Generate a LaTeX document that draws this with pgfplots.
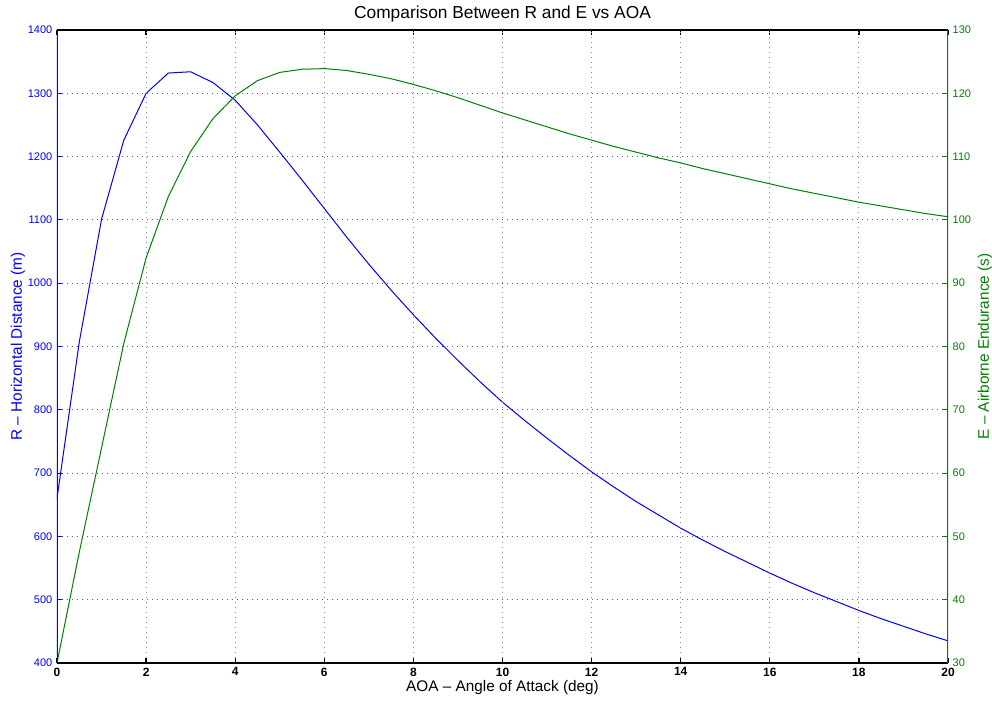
\documentclass[border=0pt]{standalone}
\usepackage{pgfplots}
\pgfplotsset{compat=1.18}
\usepackage{pgfplotstable}
\usepackage{fontspec}
\setmainfont{Liberation Sans}
\definecolor{mgreen}{rgb}{0,0.5,0}
\definecolor{gridblue}{rgb}{0.3,0.3,1}
\definecolor{gridgray}{rgb}{0.55,0.55,0.55}
\pgfplotstableread{
x R
0 660
0.5 907
1 1101
1.5 1226
2 1300
2.5 1332
3 1334
3.5 1317
4 1289
4.5 1250
5 1207
5.5 1163
6 1118
6.5 1073
7 1030
7.5 989
8 950
8.5 913
9 878
9.5 844
10 812
10.5 783
11 755
11.5 728
12 702
12.5 678
13 655
13.5 634
14 613
14.5 594
15 576
15.5 559
16 542
16.5 526
17 511
17.5 497
18 483
18.5 470
19 458
19.5 446
20 435
}\Rtable
\pgfplotstableread{
x E
0 30
0.5 47.5
1 64
1.5 80.5
2 94
2.5 103.7
3 110.8
3.5 116
4 119.6
4.5 122
5 123.3
5.5 123.8
6 123.9
6.5 123.6
7 123.0
7.5 122.3
8 121.4
8.5 120.4
9 119.3
9.5 118.1
10 116.9
10.5 115.8
11 114.7
11.5 113.6
12 112.6
12.5 111.6
13 110.7
13.5 109.8
14 109
14.5 108.1
15 107.3
15.5 106.5
16 105.7
16.5 104.9
17 104.2
17.5 103.5
18 102.8
18.5 102.2
19 101.6
19.5 101
20 100.5
}\Etable
\begin{document}
\begin{tikzpicture}
\useasboundingbox (-42.75pt,-27.75pt) rectangle (701.25pt,497.25pt);
\pgfplotsset{
  common/.style={
    at={(0,0)}, anchor=south west, scale only axis,
    width=668.25pt, height=474.75pt,
    xmin=0, xmax=20,
    tick align=inside,
    major tick length=3.75pt,
    axis line style={draw=none},
    /pgf/number format/assume math mode=true,
    /pgf/number format/1000 sep={},
    every axis title shift=0pt,
  }
}
\begin{axis}[common,
  ymin=400, ymax=1400,
  xtick={0,2,...,20},
  ytick={400,500,...,1400},
  ytick pos=left,
  xtick pos=both,
  ymajorgrids,
  every major grid/.style={color=gridblue, line width=0.75pt, dash pattern=on 0.75pt off 3pt},
  xtick style={black, line width=1pt},
  ytick style={blue, line width=0.8pt},
  xticklabel style={font=\bfseries\fontsize{9}{10}\selectfont, black},
  yticklabel style={font=\fontsize{8.25}{9}\selectfont, blue},
  xlabel={AOA -- Angle of Attack (deg)},
  xlabel style={font=\fontsize{11.5}{13}\selectfont, at={(axis description cs:0.5,-0.0395)}, anchor=center},
  ylabel={R -- Horizontal Distance (m)},
  ylabel style={font=\fontsize{11.5}{13}\selectfont, blue, at={(axis description cs:-0.0438,0.5)}, anchor=center, rotate=0},
  title={Comparison Between R and E vs AOA},
  title style={font=\fontsize{13}{15}\selectfont, at={(axis description cs:0.5,1.0253)}, anchor=center},
]
\addplot[blue, line width=0.75pt, mark=none] table[x=x, y=R] {\Rtable};
\end{axis}
\begin{axis}[common,
  ymin=30, ymax=130,
  xtick={2,4,...,18},
  ytick={30,40,...,130},
  ytick pos=right,
  xticklabels={},
  xtick style={draw=none},
  xmajorgrids,
  every major grid/.style={color=gridgray, line width=0.75pt, dash pattern=on 0.75pt off 3pt},
  ytick style={mgreen, line width=0.8pt},
  yticklabel style={font=\fontsize{8.25}{9}\selectfont, mgreen},
  ylabel={E -- Airborne Endurance (s)},
  ylabel style={font=\fontsize{11.5}{13}\selectfont, mgreen, at={(axis description cs:1.0415,0.5)}, anchor=center, rotate=0},
]
\addplot[mgreen, line width=0.75pt, mark=none] table[x=x, y=E] {\Etable};
\draw[black, line width=1.3pt] (rel axis cs:0,0) -- (rel axis cs:1,0);
\draw[black, line width=0.8pt] (rel axis cs:0,1) -- (rel axis cs:1,1);
\draw[blue, line width=1pt] (rel axis cs:0,0) -- (rel axis cs:0,1);
\draw[mgreen, line width=1pt] (rel axis cs:1,0) -- (rel axis cs:1,1);
\end{axis}
\end{tikzpicture}
\end{document}
